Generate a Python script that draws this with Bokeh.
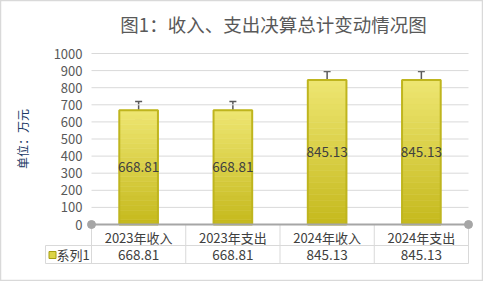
from bokeh.plotting import figure
from bokeh.models import (ColumnDataSource, FixedTicker, Range1d, Whisker, TeeHead,
                          LinearAxis)
from bokeh.core.properties import value
from bokeh.embed import file_html
from bokeh.resources import INLINE

# ---- data ----
categories = ["2023年收入", "2023年支出", "2024年收入", "2024年支出"]
values = [668.81, 668.81, 845.13, 845.13]
errors = [50, 50, 50, 50]
value_labels = ["668.81", "668.81", "845.13", "845.13"]
series_name = "系列1"
y_ticks = [0, 100, 200, 300, 400, 500, 600, 700, 800, 900, 1000]
title_text = "图1：收入、支出决算总计变动情况图"
y_title = "单位：万元"

FONT = "Noto Sans CJK SC"
W, H = 483, 281
# layout: pixel position of data origin and scale
X0_PX, X_UNIT = 91.0, 94.25
Y0_PX, Y_UNIT = 224.0, 0.171
BAR_W = 0.41
TOP_RGB = (238, 230, 114)
BOT_RGB = (197, 185, 28)
N_BANDS = 24


def dx(px):
    return (px - X0_PX) / X_UNIT


def dy(py):
    return (Y0_PX - py) / Y_UNIT


n = len(categories)
centers = [i + 0.5 for i in range(n)]
src = ColumnDataSource(dict(
    x=centers, top=values, mid=[v / 2 for v in values], lab=value_labels,
    upper=[v + e for v, e in zip(values, errors)],
    lower=[v - e for v, e in zip(values, errors)],
))

p = figure(width=W, height=H, output_backend="svg", toolbar_location=None,
           x_range=Range1d(dx(0), dx(W)), y_range=Range1d(dy(H), dy(0)),
           x_axis_type=None, y_axis_type=None,
           min_border_left=0, min_border_right=0, min_border_top=0, min_border_bottom=0)
p.xgrid.visible = False
p.ygrid.visible = False
p.outline_line_color = "#D9D9D9"
p.outline_line_width = 1.5
p.background_fill_color = "white"
p.border_fill_color = "white"

# title
p.text(x=[dx(273)], y=[dy(23)], text=[title_text], text_font=value(FONT),
       text_font_size="18.5px", text_color="#595959", text_align="center",
       text_baseline="middle")

# gridlines
gy = [t for t in y_ticks if t > 0]
p.segment(x0=[0] * len(gy), x1=[n] * len(gy), y0=gy, y1=gy,
          line_color="#D9D9D9", line_width=1)

# table lines
row1 = dy(245)
row2 = dy(263)
p.segment(x0=list(range(n + 1)), x1=list(range(n + 1)), y0=[0] * (n + 1), y1=[row2] * (n + 1),
          line_color="#D9D9D9", line_width=1)
p.segment(x0=[dx(45), dx(45), dx(45)], x1=[n, n, dx(45)], y0=[row1, row2, row1], y1=[row1, row2, row2],
          line_color="#D9D9D9", line_width=1)

# bar gradient fill (bands derived from each bar's value)
gx, gb, gt, gc = [], [], [], []
for c, v in zip(centers, values):
    for k in range(N_BANDS):
        f = (k + 0.5) / N_BANDS
        rgb = tuple(int(round(b + (t - b) * f)) for b, t in zip(BOT_RGB, TOP_RGB))
        gx.append(c)
        gb.append(v * k / N_BANDS)
        gt.append(v * (k + 1) / N_BANDS)
        gc.append("#%02x%02x%02x" % rgb)
p.vbar(x=gx, bottom=gb, top=gt, width=BAR_W, fill_color=gc, line_color=gc, line_width=0.6)

# bars outline
p.vbar(x="x", top="top", bottom=0, width=BAR_W, source=src,
       fill_color=None, line_color="#BFB51E", line_width=2)

# error bars
p.add_layout(Whisker(base="x", upper="upper", lower="lower", source=src,
                     line_color="#595959", line_width=1.5,
                     upper_head=TeeHead(size=7, line_color="#595959", line_width=1.5),
                     lower_head=TeeHead(size=7, line_color="#595959", line_width=1.5)))

# data labels inside bars
p.text(x="x", y="mid", text="lab", source=src, text_font=value(FONT),
       text_font_size="13.5px", text_color="#404040", text_align="center",
       text_baseline="middle")

# table values row
p.text(x=centers, y=[dy(254)] * n, text=value_labels, text_font=value(FONT),
       text_font_size="13.5px", text_color="#404040", text_align="center",
       text_baseline="middle")

# legend key in table
p.scatter(x=[dx(52)], y=[dy(254.5)], marker="square", size=7,
          fill_color="#DDD446", line_color="#A89E10", line_width=1)
p.text(x=[dx(56)], y=[dy(254)], text=[series_name], text_font=value(FONT),
       text_font_size="13px", text_color="#404040", text_align="left",
       text_baseline="middle")

# axis end circles
p.scatter(x=[0, n], y=[0, 0], marker="circle", size=8,
          fill_color="#A6A6A6", line_color="#A6A6A6")

# y axis
yax = LinearAxis(fixed_location=0, bounds=(0, 1000), ticker=FixedTicker(ticks=y_ticks))
yax.axis_line_color = None
yax.major_tick_line_color = None
yax.minor_tick_line_color = None
yax.major_tick_out = 0
yax.major_label_standoff = 9
yax.major_label_text_font = FONT
yax.major_label_text_font_size = "13px"
yax.major_label_text_color = "#595959"
yax.axis_label = y_title
yax.axis_label_text_font = FONT
yax.axis_label_text_font_size = "12px"
yax.axis_label_text_font_style = "normal"
yax.axis_label_text_color = "#203864"
yax.axis_label_standoff = 20
p.add_layout(yax, "left")

# x axis (category labels = table header row)
xax = LinearAxis(fixed_location=0, bounds=(0, n), ticker=FixedTicker(ticks=centers),
                 major_label_overrides={c: t for c, t in zip(centers, categories)})
xax.axis_line_color = "#A6A6A6"
xax.axis_line_width = 2
xax.major_tick_line_color = None
xax.minor_tick_line_color = None
xax.major_tick_out = 0
xax.major_label_standoff = 3
xax.major_label_text_font = FONT
xax.major_label_text_font_size = "13px"
xax.major_label_text_color = "#404040"
p.add_layout(xax, "below")

open("out.html", "w").write(file_html(p, INLINE))
